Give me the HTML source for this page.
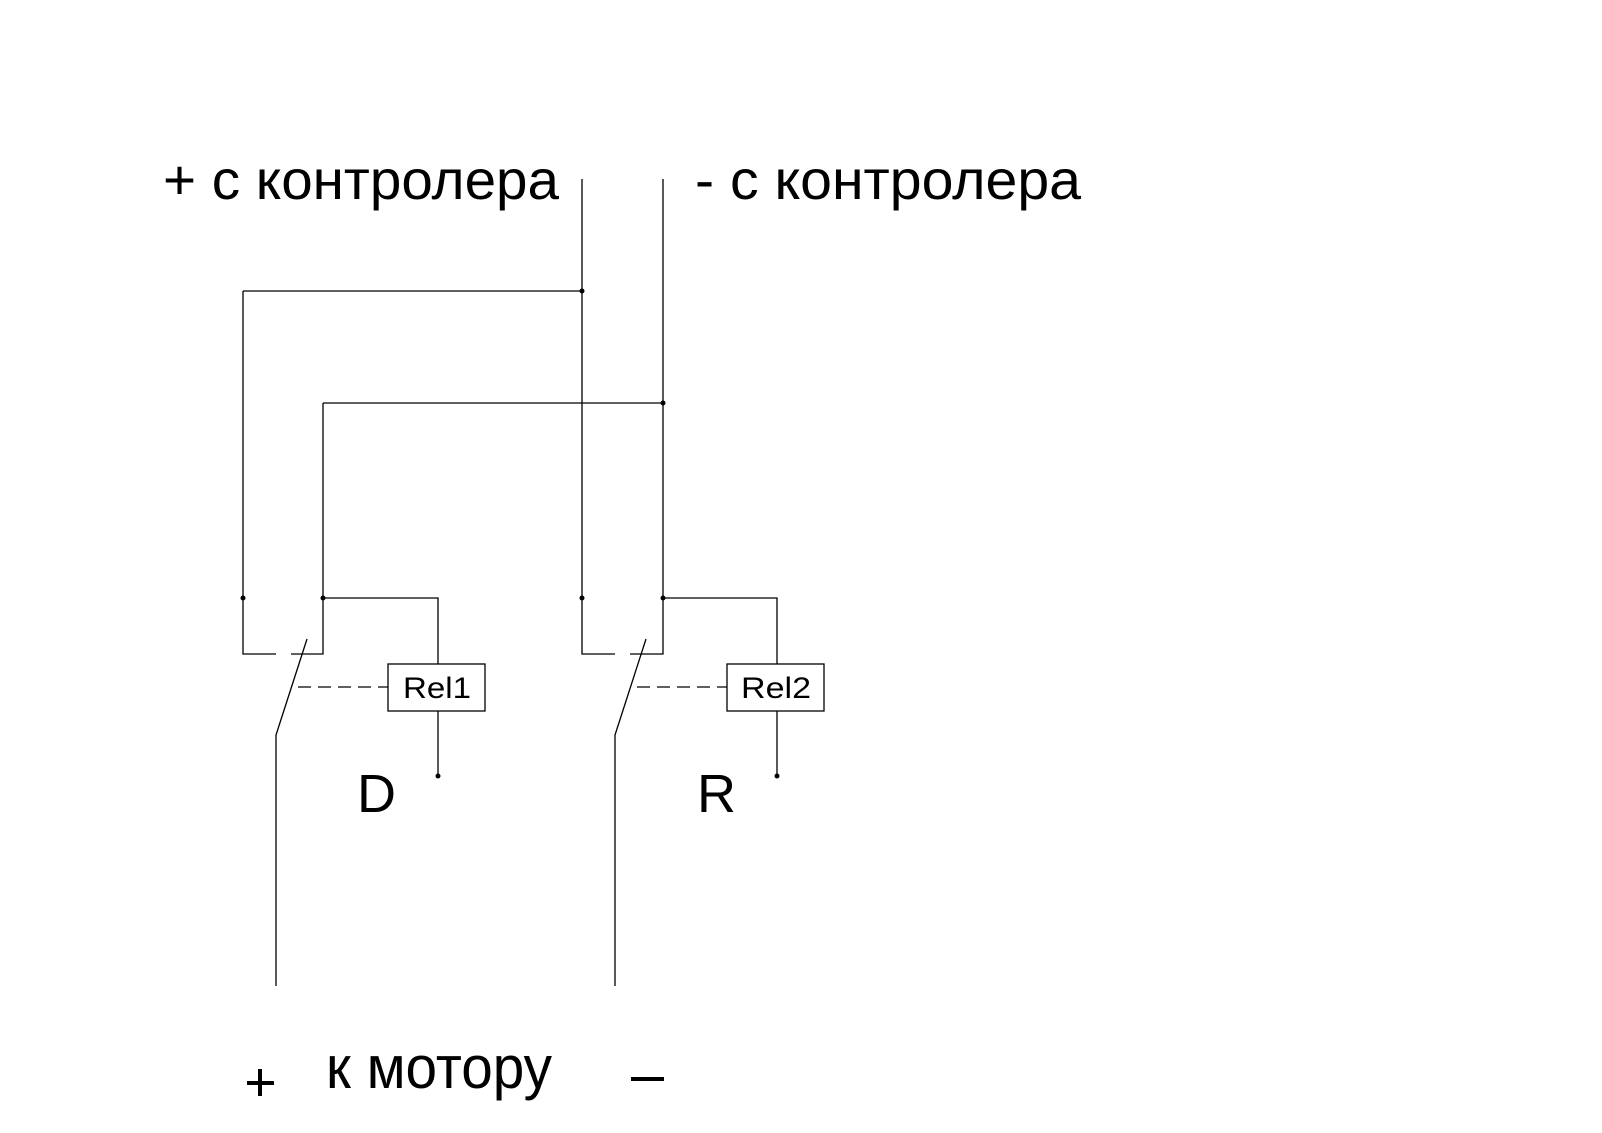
<!DOCTYPE html>
<html><head><meta charset="utf-8"><style>html,body{margin:0;padding:0;background:#fff}svg{display:block}</style></head>
<body>
<svg width="1602" height="1133" viewBox="0 0 1602 1133" xmlns="http://www.w3.org/2000/svg">
<g font-family="Liberation Sans, Arial, sans-serif" fill="#000">
<text x="163" y="199" font-size="56" textLength="396" lengthAdjust="spacingAndGlyphs">+ с контролера</text>
<text x="695" y="199" font-size="56" textLength="386" lengthAdjust="spacingAndGlyphs">- с контролера</text>
<text x="357" y="812" font-size="54">D</text>
<text x="697" y="812" font-size="54">R</text>
<text x="326" y="1088" font-size="60" textLength="226" lengthAdjust="spacingAndGlyphs">к мотору</text>
<text x="437" y="698" font-size="30" text-anchor="middle" textLength="68" lengthAdjust="spacingAndGlyphs">Rel1</text>
<text x="776" y="698" font-size="30" text-anchor="middle" textLength="70" lengthAdjust="spacingAndGlyphs">Rel2</text>
</g>
<rect x="247" y="1081" width="27" height="4"/>
<rect x="258" y="1069" width="4" height="27"/>
<rect x="631" y="1077" width="33" height="4"/>
<g stroke="#000" stroke-width="1.3" fill="none">
<polyline points="582,179 582,654 615,654"/>
<polyline points="663,179 663,654 630,654"/>
<polyline points="243,291 582,291"/>
<polyline points="323,403 663,403"/>
<polyline points="243,291 243,654 276,654"/>
<polyline points="323,403 323,654 291,654"/>
<polyline points="323,598 438,598 438,664"/>
<polyline points="663,598 777,598 777,664"/>
<polyline points="438,711 438,776"/>
<polyline points="777,711 777,776"/>
<rect x="388" y="664" width="97" height="47"/>
<rect x="727" y="664" width="97" height="47"/>
<polyline points="307,639 276,735 276,986"/>
<polyline points="646,639 615,735 615,986"/>
<line x1="298" y1="687" x2="388" y2="687" stroke-dasharray="13,7"/>
<line x1="637" y1="687" x2="727" y2="687" stroke-dasharray="13,7"/>
</g>
<g fill="#000">
<circle cx="243" cy="598" r="2.5"/><circle cx="323" cy="598" r="2.5"/>
<circle cx="582" cy="598" r="2.5"/><circle cx="663" cy="598" r="2.5"/>
<circle cx="582" cy="291" r="2.5"/><circle cx="663" cy="403" r="2.5"/>
<circle cx="438" cy="776" r="2.5"/><circle cx="777" cy="776" r="2.5"/>
</g>
</svg>
</body></html>
